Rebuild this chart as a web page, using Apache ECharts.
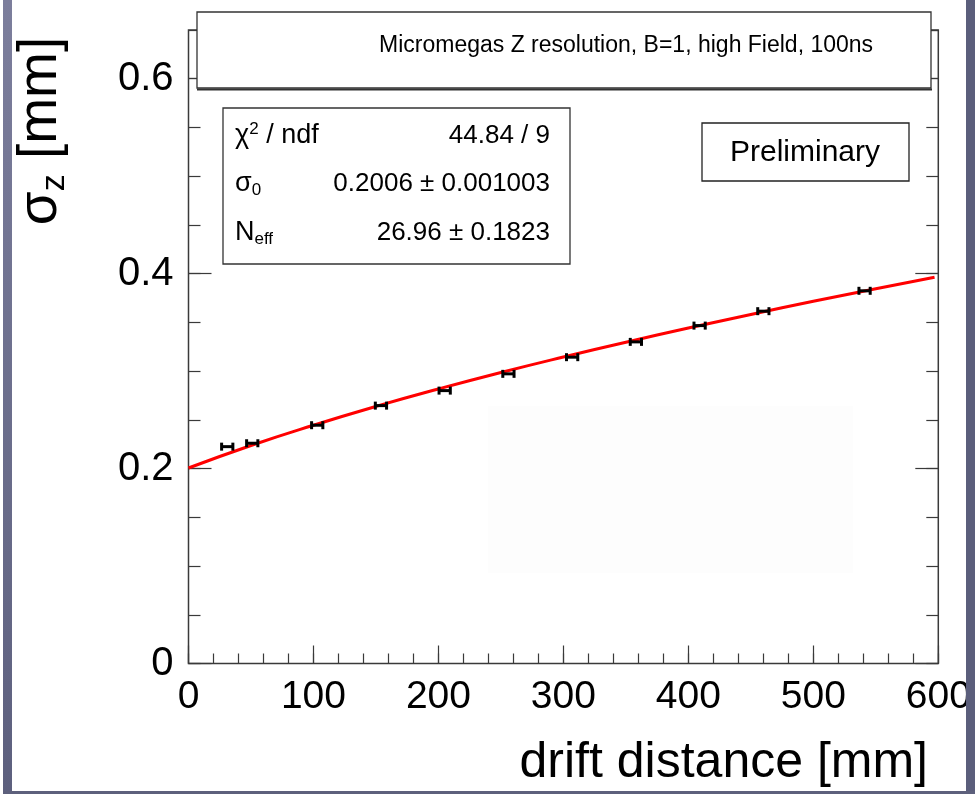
<!DOCTYPE html>
<html>
<head>
<meta charset="utf-8">
<script src="https://cdn.jsdelivr.net/npm/echarts@6/dist/echarts.min.js"></script>
<style>
html,body{margin:0;padding:0;background:#fff;}
#chart{width:975px;height:794px;}
</style>
</head>
<body>
<div id="chart"></div>
<script>
// ---- data ----
const distX  = [31, 51, 103, 154, 205, 256, 307, 358, 409, 460, 541];
const sigmaZ = [0.2225, 0.2260, 0.2445, 0.2646, 0.2800, 0.2972, 0.3143, 0.3300, 0.3467, 0.3615, 0.3824];
const xErr   = [4.5, 4.5, 4.5, 4.5, 4.5, 4.5, 4.5, 4.5, 4.5, 4.5, 4.5];
const fitX   = [0, 50, 100, 150, 200, 250, 300, 350, 400, 450, 500, 550, 597];
const fitY   = [0.2006, 0.2237, 0.2445, 0.2638, 0.2817, 0.2986, 0.3145, 0.3297, 0.3442, 0.3581, 0.3716, 0.3845, 0.3963];
const xTickLabels = ['0', '100', '200', '300', '400', '500', '600'];
const yTickLabels = ['0', '0.2', '0.4', '0.6'];
const titleText = 'Micromegas Z resolution, B=1, high Field, 100ns';
const statNames = ['{a|\u03c7}{sup|2}{a| / ndf}', '{a|\u03c3}{sub|0}', '{a|N}{sub|eff}'];
const statValues = ['44.84 / 9', '0.2006 \u00b1 0.001003', '26.96 \u00b1 0.1823'];
const prelimText = 'Preliminary';
const xName = 'drift distance [mm]';
const yName = '{a|\u03c3}{sub|z}{a| [mm]}';

const FONT = '"Liberation Sans", Arial, Helvetica, sans-serif';
const AX = '#3a3a3a';

const chart = echarts.init(document.getElementById('chart'), null, {renderer: 'canvas'});

const tickStyle = {color: AX, width: 1.2};
function yAxisDef(pos, interval, len, labels) {
  return {
    type: 'value', min: 0, max: 0.65, interval: interval, position: pos,
    axisLine: {show: false},
    axisTick: {show: true, inside: true, length: len, lineStyle: tickStyle},
    axisLabel: labels ? {
      show: true, margin: 15, fontSize: 40, fontFamily: FONT, color: '#000',
      showMaxLabel: false,
      formatter: function (v) {
        const i = Math.round(v / 0.2);
        return Math.abs(v - i * 0.2) < 1e-6 && i < yTickLabels.length ? yTickLabels[i] : '';
      }
    } : {show: false},
    splitLine: {show: false}
  };
}
function xAxisDef(interval, len, labels) {
  return {
    type: 'value', min: 0, max: 600, interval: interval, position: 'bottom',
    axisLine: {show: false},
    axisTick: {show: true, inside: true, length: len, lineStyle: tickStyle},
    axisLabel: labels ? {
      show: true, margin: 14, fontSize: 39, fontFamily: FONT, color: '#000',
      formatter: function (v) {
        const i = Math.round(v / 100);
        return xTickLabels[i] !== undefined ? xTickLabels[i] : '';
      }
    } : {show: false},
    splitLine: {show: false}
  };
}

const errData = distX.map((x, i) => [x, sigmaZ[i], xErr[i]]);
const fitData = fitX.map((x, i) => [x, fitY[i]]);

const option = {
  backgroundColor: '#ffffff',
  animation: false,
  grid: {
    left: 188.5, right: 36.7, top: 30, bottom: 130.5,
    show: true, borderColor: AX, borderWidth: 1.5, backgroundColor: 'transparent'
  },
  xAxis: [xAxisDef(100, 18, true), xAxisDef(20, 10, false)],
  yAxis: [
    yAxisDef('left', 0.2, 23, true),
    yAxisDef('left', 0.05, 12, false),
    yAxisDef('right', 0.2, 23, false),
    yAxisDef('right', 0.05, 12, false)
  ],
  series: [
    {
      type: 'line', name: 'fit', xAxisIndex: 0, yAxisIndex: 0,
      data: fitData, smooth: true, showSymbol: false, symbol: 'none',
      lineStyle: {color: '#ff0000', width: 3}, z: 3
    },
    {
      type: 'custom', name: 'data', xAxisIndex: 0, yAxisIndex: 0,
      data: errData, z: 5,
      renderItem: function (params, api) {
        const x = api.value(0), y = api.value(1), e = api.value(2);
        const p1 = api.coord([x - e, y]);
        const p2 = api.coord([x + e, y]);
        const st = {stroke: '#000', lineWidth: 3};
        return {
          type: 'group',
          children: [
            {type: 'line', shape: {x1: p1[0], y1: p1[1], x2: p2[0], y2: p2[1]}, style: st},
            {type: 'line', shape: {x1: p1[0], y1: p1[1] - 4, x2: p1[0], y2: p1[1] + 4}, style: st},
            {type: 'line', shape: {x1: p2[0], y1: p2[1] - 4, x2: p2[0], y2: p2[1] + 4}, style: st}
          ]
        };
      }
    }
  ],
  graphic: [
    // slide edges
    {type: 'rect', shape: {x: 3, y: 0, width: 9, height: 794}, z: 20,
     style: {fill: new echarts.graphic.LinearGradient(0, 0, 0, 1, [{offset: 0, color: '#7c7e9c'}, {offset: 1, color: '#5d607e'}])}},
    {type: 'rect', shape: {x: 966, y: 0, width: 9, height: 794}, z: 20, style: {fill: '#5b5e7b'}},
    {type: 'rect', shape: {x: 3, y: 791, width: 972, height: 3}, z: 20, style: {fill: '#5d607c'}},
    // faint patch
    {type: 'rect', shape: {x: 488, y: 406, width: 365, height: 167}, z: 1, style: {fill: '#fdfdfd'}},
    // title box
    {type: 'rect', shape: {x: 197, y: 12, width: 734, height: 76}, z: 10,
     style: {fill: '#fff', stroke: '#333', lineWidth: 1.3}},
    {type: 'line', shape: {x1: 197, y1: 89.5, x2: 932, y2: 89.5}, z: 10, style: {stroke: '#333', lineWidth: 2}},
    {type: 'text', x: 379, y: 46, z: 11,
     style: {text: titleText, font: '23px ' + FONT, fill: '#000', textAlign: 'left', textVerticalAlign: 'middle'}},
    // stats box
    {type: 'rect', shape: {x: 223, y: 108, width: 347, height: 156}, z: 10,
     style: {fill: '#fff', stroke: '#333', lineWidth: 1.3}},
    ...statNames.map((t, i) => ({
      type: 'text', x: 235, y: [136, 183.5, 232.5][i], z: 11,
      style: {
        text: t, textAlign: 'left', textVerticalAlign: 'middle', fill: '#000',
        rich: {
          a: {fontSize: 27, fontFamily: FONT, color: '#000', lineHeight: 30},
          sup: {fontSize: 17, fontFamily: FONT, color: '#000', verticalAlign: 'top', lineHeight: 30},
          sub: {fontSize: 17, fontFamily: FONT, color: '#000', verticalAlign: 'bottom', lineHeight: 30}
        }
      }
    })),
    ...statValues.map((t, i) => ({
      type: 'text', x: 550, y: [136, 183.5, 232.5][i], z: 11,
      style: {text: t, font: '26px ' + FONT, fill: '#000', textAlign: 'right', textVerticalAlign: 'middle'}
    })),
    // preliminary box
    {type: 'rect', shape: {x: 702, y: 123, width: 207, height: 58}, z: 10,
     style: {fill: '#fff', stroke: '#222', lineWidth: 1.3}},
    {type: 'text', x: 805, y: 153, z: 11,
     style: {text: prelimText, font: '30px ' + FONT, fill: '#000', textAlign: 'center', textVerticalAlign: 'middle'}},
    // axis titles
    {type: 'text', x: 928, y: 763, z: 11,
     style: {text: xName, font: '50px ' + FONT, fill: '#000', textAlign: 'right', textVerticalAlign: 'middle'}},
    {type: 'text', x: 41, y: 131, rotation: Math.PI / 2, z: 11,
     style: {
       text: yName, textAlign: 'center', textVerticalAlign: 'middle', fill: '#000',
       rich: {
         a: {fontSize: 55, fontFamily: FONT, color: '#000', lineHeight: 62},
         sub: {fontSize: 34, fontFamily: FONT, color: '#000', verticalAlign: 'bottom', lineHeight: 62}
       }
     }}
  ]
};
chart.setOption(option);
</script>
</body>
</html>
